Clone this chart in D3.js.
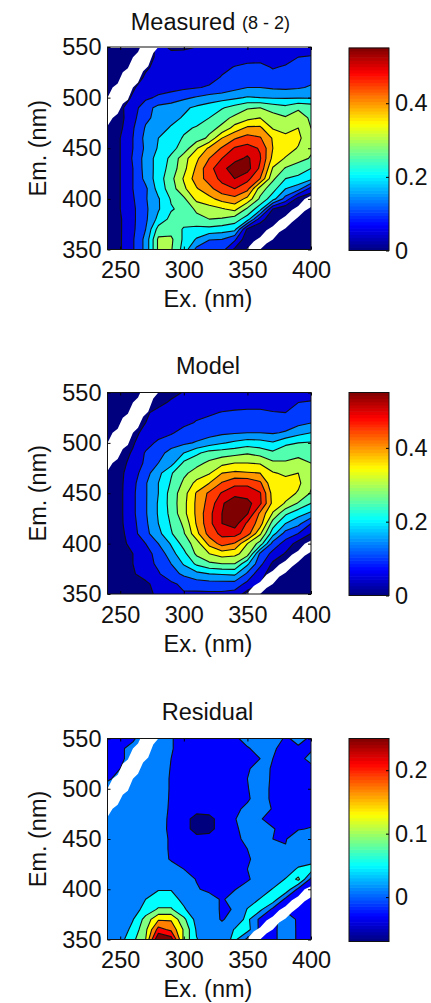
<!DOCTYPE html>
<html>
<head>
  <meta charset="utf-8">
  <title>Measured, model, residual</title>
  <script src="https://d3js.org/d3.v7.min.js"></script>
  <style>
    body { margin: 0; background: #fff; overflow: hidden; }
    text { font-family: "Liberation Sans", Arial, sans-serif; fill: #111; }
    .tick text { font-size: 23.5px; }
    .domain { display: none; }
  </style>
</head>
<body>
<svg width="431" height="1003"></svg>
<script>
// grid axes, rows run from 550 nm down to 350 nm
const exValues = [240,250,260,270,280,290,300,310,320,330,340,350,360,370,380,390,400];
const emValues = [550,540,530,520,510,500,490,480,470,460,450,440,430,420,410,400,390,380,370,360,350];
const exTicks = [250,300,350,400];
const emTicks = [350,400,450,500,550];

const measured = [
  [.01,.01,.02,.03,.06,.045,.045,.05,.06,.065,.07,.07,.07,.07,.075,.08,.08],
  [.01,.01,.02,.03,.06,.06,.062,.068,.07,.075,.08,.088,.09,.08,.09,.10,.103],
  [.01,.01,.02,.045,.06,.065,.07,.075,.08,.09,.102,.108,.108,.098,.103,.115,.115],
  [.01,.015,.03,.055,.065,.07,.075,.08,.085,.103,.12,.13,.125,.11,.12,.13,.135],
  [.015,.025,.045,.07,.08,.085,.09,.097,.105,.115,.135,.15,.15,.143,.14,.145,.155],
  [.02,.03,.055,.09,.108,.12,.14,.155,.17,.18,.19,.205,.20,.195,.195,.195,.195],
  [.02,.04,.077,.13,.165,.175,.19,.21,.225,.245,.27,.295,.30,.28,.265,.295,.28],
  [.02,.035,.085,.14,.165,.185,.205,.225,.25,.285,.31,.335,.35,.32,.305,.315,.295],
  [.02,.04,.095,.155,.18,.205,.24,.255,.285,.31,.37,.41,.41,.345,.33,.35,.30],
  [.02,.05,.10,.165,.20,.225,.255,.275,.31,.40,.445,.47,.455,.395,.365,.365,.30],
  [.02,.05,.10,.16,.205,.235,.27,.345,.41,.455,.505,.52,.495,.40,.38,.345,.31],
  [.02,.05,.105,.17,.22,.26,.33,.39,.45,.50,.53,.56,.505,.385,.345,.32,.295],
  [.02,.05,.10,.17,.22,.27,.335,.41,.485,.53,.585,.57,.49,.345,.295,.27,.25],
  [.02,.05,.10,.165,.225,.285,.355,.425,.47,.515,.55,.515,.45,.31,.25,.24,.215],
  [.02,.05,.10,.14,.22,.275,.34,.395,.435,.48,.50,.465,.325,.27,.20,.17,.08],
  [.02,.05,.095,.145,.195,.255,.29,.365,.385,.42,.435,.385,.29,.22,.13,.03,.01],
  [.02,.05,.09,.14,.195,.245,.265,.31,.33,.345,.365,.29,.22,.05,.01,.01,.01],
  [.02,.045,.09,.14,.215,.265,.27,.285,.30,.295,.275,.225,.075,.01,.01,.01,.01],
  [.02,.045,.09,.15,.27,.28,.245,.235,.235,.225,.215,.04,.01,.01,.01,.01,.01],
  [.02,.045,.095,.165,.31,.31,.24,.195,.152,.15,.11,.01,.01,.01,.01,.01,.01],
  [.02,.045,.095,.165,.31,.305,.23,.135,.12,.12,.04,.005,.005,.005,.005,.005,.005]
];

const model = [
  [.01,.01,.01,.02,.03,.04,.052,.06,.065,.07,.07,.07,.07,.075,.08,.085,.085],
  [.01,.01,.015,.025,.04,.055,.065,.07,.075,.08,.085,.09,.09,.085,.09,.10,.103],
  [.01,.015,.02,.045,.06,.07,.08,.09,.095,.102,.105,.105,.105,.102,.10,.11,.115],
  [.01,.02,.03,.05,.065,.08,.09,.103,.11,.115,.12,.125,.125,.12,.125,.135,.149],
  [.015,.025,.04,.06,.08,.095,.115,.125,.13,.14,.145,.15,.15,.145,.155,.184,.20],
  [.02,.03,.045,.08,.11,.125,.14,.155,.175,.195,.21,.225,.22,.205,.24,.25,.255],
  [.02,.03,.055,.105,.13,.17,.20,.24,.27,.275,.283,.295,.28,.26,.28,.287,.275],
  [.02,.035,.065,.11,.15,.18,.26,.285,.31,.335,.35,.35,.345,.31,.305,.315,.30],
  [.02,.04,.075,.13,.185,.245,.29,.32,.345,.40,.41,.405,.40,.355,.34,.35,.31],
  [.02,.04,.085,.145,.20,.255,.31,.365,.40,.455,.49,.49,.46,.36,.37,.36,.31],
  [.02,.04,.09,.145,.20,.27,.33,.405,.46,.505,.525,.525,.505,.38,.37,.345,.295],
  [.02,.04,.09,.145,.205,.27,.335,.41,.47,.54,.60,.57,.51,.385,.345,.295,.25],
  [.02,.04,.09,.145,.205,.265,.335,.41,.485,.55,.59,.555,.44,.345,.26,.22,.19],
  [.02,.04,.085,.14,.20,.255,.31,.405,.485,.55,.575,.49,.425,.275,.20,.165,.10],
  [.015,.035,.08,.135,.185,.245,.295,.385,.47,.515,.52,.475,.36,.22,.13,.10,.05],
  [.015,.03,.07,.10,.15,.205,.27,.325,.415,.47,.445,.35,.28,.13,.08,.03,.01],
  [.01,.025,.05,.085,.115,.18,.235,.31,.35,.375,.365,.325,.14,.085,.045,.01,.01],
  [.01,.02,.05,.08,.11,.15,.205,.26,.29,.30,.30,.21,.115,.04,.01,.01,.01],
  [.01,.015,.045,.07,.095,.13,.16,.185,.20,.205,.21,.14,.065,.03,.01,.01,.01],
  [.01,.012,.03,.04,.07,.09,.112,.125,.13,.13,.13,.085,.05,.015,.01,.01,.01],
  [.005,.01,.02,.035,.06,.07,.095,.09,.09,.09,.08,.03,.01,.005,.005,.005,.005]
];

const residual = [
  [0,0,.005,.03,.03,.012,0,0,0,0,0,.03,.03,.03,.005,.02,.005],
  [0,.005,.02,.03,.03,.012,0,0,0,0,0,.005,.028,.012,.005,.005,.005],
  [0,.005,.02,.03,.03,.01,0,0,0,0,0,0,.01,.01,0,0,.02],
  [0,.01,.025,.03,.03,.008,0,0,0,0,0,.005,.028,.005,0,0,0],
  [.005,.02,.03,.03,.03,.006,0,0,0,0,0,.01,.028,.004,0,0,0],
  [.025,.03,.03,.03,.03,.006,0,0,0,0,0,.008,.028,.002,0,0,0],
  [.03,.03,.03,.03,.03,.005,0,0,0,0,0,.005,.028,.002,0,-.002,0],
  [.03,.03,.03,.03,.028,.004,0,0,0,0,.002,.018,.03,.007,0,0,0],
  [.03,.03,.03,.03,.026,.002,0,-.06,-.05,0,.008,.028,.012,0,0,0,0],
  [.03,.03,.03,.03,.028,0,0,-.06,-.05,0,.002,.028,.03,.012,0,.008,.012],
  [.03,.03,.03,.03,.028,.004,0,-.005,-.005,0,0,.02,.03,.01,.008,.028,.03],
  [.03,.03,.03,.03,.028,.004,0,0,0,0,0,.01,.028,.028,.012,.03,.03],
  [.03,.03,.03,.03,.028,.006,0,0,0,0,0,.004,.028,.03,.03,.03,.03],
  [.03,.03,.03,.03,.03,.028,.01,0,0,0,0,.01,.028,.03,.03,.055,.07],
  [.03,.03,.03,.03,.03,.03,.028,.008,0,0,0,.005,.028,.03,.052,.10,0],
  [.03,.03,.03,.03,.048,.048,.028,.014,0,0,.008,.028,.03,.052,.08,0,0],
  [.03,.028,.028,.05,.065,.065,.04,.028,.028,.005,.028,.03,.052,.075,0,0,0],
  [.03,.028,.03,.065,.095,.095,.055,.025,.028,.005,.012,.052,.06,0,.005,0,0],
  [.03,.02,.048,.105,.165,.165,.10,.035,.03,.006,.028,.06,0,0,.028,.005,0],
  [.03,.025,.062,.12,.225,.20,.125,.045,.03,.028,.052,.065,0,0,.03,.005,0],
  [.03,.035,.08,.13,.29,.27,.12,.052,.03,.03,.06,0,0,0,.03,.005,0]
];

// contour levels, each band is filled with the colour of its lower level
const measuredLevels = [.05,.10,.15,.20,.25,.30,.35,.40,.45,.50,.55];
const residualLevels = [-.03,.01,.05,.09,.13,.17,.21,.25];

// white scatter bands where nothing was measured: ex, em low, em high
const upperBandEx = [240,244,248,252,256,260,264,268,272,276,280];
const upperBandLow = [472,480,484,494,498,510,515,526,531,544,550];
const upperBandHigh = [500,510,514,525,529,540,545,556,561,572,580];
const lowerBandEx = [345,350,355,360,365,370,375,380,385,390,395,400];
const lowerBandLow = [335,340,346,350,356,360,367,371,377,382,388,392];
const lowerBandHigh = [346,351,358,362,369,373,379,383,389,393,400,403];

const jetStops = [0,.125,.375,.625,.875,1];
const jetColors = ["#00007f","#0000ff","#00ffff","#ffff00","#ff0000","#7f0000"];

const panels = [
  {title:"Measured", titleX:183, note:"(8 - 2)", data:measured, levels:measuredLevels,
   range:[0,.55], barTicks:[0,.2,.4], top:47, bottom:249.5, barTop:48, barBottom:250.5, titleY:30, topStrip:true},
  {title:"Model", titleX:208, data:model, levels:measuredLevels,
   range:[0,.55], barTicks:[0,.2,.4], top:392.5, bottom:594, barTop:392.5, barBottom:595.5, titleY:374},
  {title:"Residual", titleX:207.5, data:residual, levels:residualLevels,
   range:[-.07,.25], barTicks:[0,.1,.2], top:738.5, bottom:939.5, barTop:738.5, barBottom:941.5, titleY:720}
];

const svg = d3.select("svg");
const left = 107.5, right = 311, barLeft = 349, barRight = 389;

panels.forEach((p, n) => {
  const g = svg.append("g");
  const x = d3.scaleLinear().domain([240,400]).range([left,right]);
  const y = d3.scaleLinear().domain([350,550]).range([p.bottom,p.top]);
  const t = d3.scaleLinear().domain(jetStops.map(s => p.range[0] + s*(p.range[1]-p.range[0]))).range(jetColors);

  // d3 puts grid value i at contour coordinate i+0.5
  const gx = d3.scaleLinear().domain([.5,exValues.length-.5]).range([x(exValues[0]),x(exValues[exValues.length-1])]);
  const gy = d3.scaleLinear().domain([.5,emValues.length-.5]).range([y(emValues[0]),y(emValues[emValues.length-1])]);
  const path = d3.geoPath(d3.geoTransform({
    point(a,b) { this.stream.point(gx(a),gy(b)); }
  }));

  svg.append("clipPath").attr("id","clip"+n).append("rect")
    .attr("x",left).attr("y",p.top).attr("width",right-left).attr("height",p.bottom-p.top);

  const plot = g.append("g").attr("clip-path",`url(#clip${n})`);
  plot.append("rect").attr("x",left).attr("y",p.top).attr("width",right-left).attr("height",p.bottom-p.top)
    .attr("fill",jetColors[0]);

  const contours = d3.contours().size([exValues.length,emValues.length]).thresholds(p.levels)(p.data.flat());
  plot.selectAll(".band").data(contours).join("path")
    .attr("class","band")
    .attr("d",path)
    .attr("fill",d => t(d.value))
    .attr("stroke","#111").attr("stroke-width",1.1).attr("stroke-linejoin","round");

  const area = d3.area().x(d => x(d[0])).y0(d => y(d[1])).y1(d => y(d[2]));
  plot.append("path").attr("fill","#fff")
    .attr("d",area(upperBandEx.map((e,i) => [e,upperBandLow[i],upperBandHigh[i]])));
  plot.append("path").attr("fill","#fff")
    .attr("d",area(lowerBandEx.map((e,i) => [e,lowerBandLow[i],lowerBandHigh[i]])));
  if (p.topStrip) {
    plot.append("path").attr("fill","#fff").attr("d",area([[240,549,550],[400,549,550]]));
  }

  // box and inward ticks on all four sides
  g.append("g").attr("transform",`translate(0,${p.bottom})`)
    .call(d3.axisBottom(x).tickValues(exTicks).tickSizeInner(-3).tickSizeOuter(0).tickPadding(12));
  g.append("g").attr("transform",`translate(${left},0)`)
    .call(d3.axisLeft(y).tickValues(emTicks).tickSizeInner(-3).tickSizeOuter(0).tickPadding(6));
  g.append("g").attr("transform",`translate(0,${p.top})`)
    .call(d3.axisTop(x).tickValues(exTicks).tickSizeInner(-3).tickSizeOuter(0).tickFormat(""));
  g.append("g").attr("transform",`translate(${right},0)`)
    .call(d3.axisRight(y).tickValues(emTicks).tickSizeInner(-3).tickSizeOuter(0).tickFormat(""));
  g.append("rect").attr("x",left).attr("y",p.top).attr("width",right-left).attr("height",p.bottom-p.top)
    .attr("fill","none").attr("stroke","#111").attr("stroke-width",1);

  // colour bar
  const by = d3.scaleLinear().domain(p.range).range([p.barBottom,p.barTop]);
  const steps = d3.range(64).map(i => p.range[0] + (i+.5)/64*(p.range[1]-p.range[0]));
  const h = (p.barBottom-p.barTop)/64;
  g.selectAll(".step").data(steps).join("rect")
    .attr("class","step")
    .attr("x",barLeft).attr("width",barRight-barLeft)
    .attr("y",d => by(d)-h/2-.3).attr("height",h+.6)
    .attr("fill",d => t(d));
  g.append("g").attr("transform",`translate(${barRight},0)`)
    .call(d3.axisRight(by).tickValues(p.barTicks).tickSizeInner(-3).tickSizeOuter(0).tickPadding(6)
      .tickFormat(d => d === 0 ? "0" : d3.format(".1f")(d)));
  g.append("rect").attr("x",barLeft).attr("y",p.barTop).attr("width",barRight-barLeft).attr("height",p.barBottom-p.barTop)
    .attr("fill","none").attr("stroke","#111").attr("stroke-width",1);

  // labels
  g.append("text").attr("y",p.titleY).attr("font-size",23.5).attr("text-anchor","middle")
    .attr("x",p.titleX).text(p.title);
  if (p.note) {
    g.append("text").attr("x",242).attr("y",p.titleY-1).attr("font-size",18).text(p.note);
  }
  g.append("text").attr("x",208).attr("y",p.bottom+57.5).attr("font-size",23.5).attr("text-anchor","middle").text("Ex. (nm)");
  g.append("text").attr("font-size",23.5).attr("text-anchor","middle")
    .attr("transform",`translate(46,${(p.top+p.bottom)/2}) rotate(-90)`).text("Em. (nm)");
});
</script>
</body>
</html>
